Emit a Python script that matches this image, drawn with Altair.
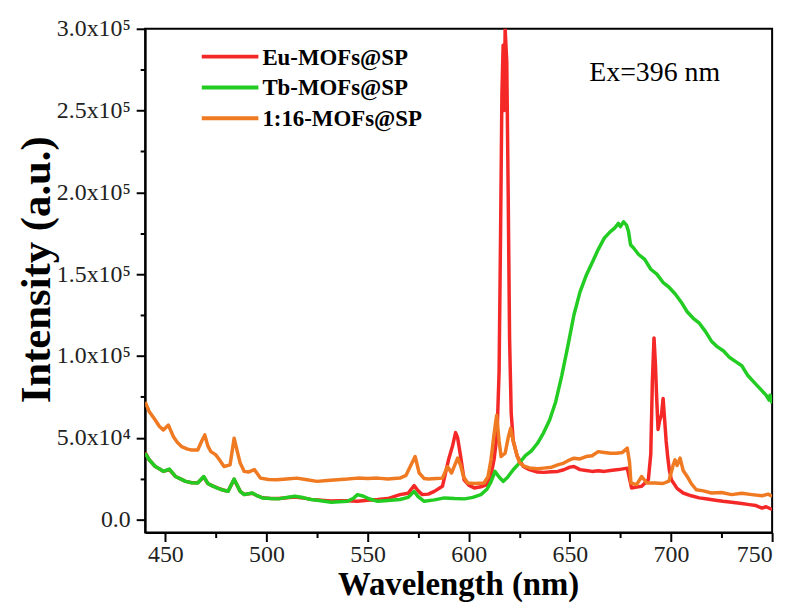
import altair as alt
import pandas as pd

# ---------------- data ----------------
eu_wl = [440, 442, 445, 447, 449, 452, 455, 458, 460, 463, 466, 469, 471, 473, 476, 478, 481, 484, 487, 489,
         493, 495, 498, 502, 506, 510, 514, 518, 522, 527, 532, 536, 540, 545, 550, 555, 560, 566, 570, 573,
         575, 577, 580, 583, 587, 590, 592, 593.5, 594.5, 596, 597.7, 600, 602.7, 606, 609, 611, 612.5, 614,
         615, 615.7, 616.4, 617, 617.5, 618, 618.8, 619.5, 620.2, 621, 622, 624, 627, 630, 634, 637, 641, 644,
         647, 650, 652, 655, 658, 661, 664, 667, 670, 674, 678.4, 679.5, 680.5, 683, 685.5, 688.8, 690, 690.8,
         691.6, 692.3, 692.9, 693.6, 694.3, 695.3, 696.1, 696.8, 697.6, 698.4, 699.2, 700.2, 703, 706, 710,
         714, 718, 722, 725.6, 730, 735, 738.7, 742, 745, 747, 750]
eu_val = [41000, 36500, 32400, 31000, 29400, 30500, 26300, 24500, 23300, 22500, 22500, 26000, 22000, 20700,
          19200, 18200, 17300, 24500, 17200, 15300, 16000, 14800, 13300, 12900, 12800, 13300, 13800, 13200,
          12300, 11800, 11300, 11400, 11500, 11100, 11800, 12200, 12800, 15200, 16000, 20700, 17500, 15200,
          15500, 17200, 20300, 36500, 45000, 53100, 50000, 38500, 24300, 21000, 19300, 20000, 21300, 27000,
          36500, 52000, 90000, 170000, 260000, 290000, 250000, 300000, 280000, 200000, 110000, 65000, 48000,
          38500, 32400, 30500, 29000, 28800, 29200, 29400, 30400, 32000, 32400, 30500, 30000, 29400, 29800,
          29400, 30000, 30500, 31400, 25000, 19300, 19800, 20300, 24300, 40000, 85000, 111000, 95000, 75000,
          55000, 60000, 64000, 74000, 62000, 48000, 38000, 30000, 24300, 19000, 16200, 14500, 13200, 12500,
          11800, 11100, 10500, 9800, 9100, 8500, 7000, 7800, 6100]

tb_wl = [440, 442, 445, 447, 449, 452, 455, 458, 460, 463, 466, 469, 471, 473, 476, 478, 481, 484, 487, 489,
         493, 495, 498, 502, 506, 510, 514, 518, 522, 527, 532, 536, 540, 543, 545, 548, 551, 555, 560, 566,
         570, 573, 575, 578, 583, 588, 593, 598, 602, 606, 609, 611, 613, 615, 617, 619, 622, 625, 628, 631,
         634, 637, 640, 643, 646, 649, 652, 655, 658, 661, 664, 667, 670, 672, 674, 675, 676.5, 678, 679, 680,
         681.5, 684, 687, 690, 693, 696, 699, 702, 705, 708, 711, 714, 717, 720, 723, 726, 729, 732, 735, 738,
         741, 744, 747, 748.5, 749, 750]
tb_val = [40500, 36500, 32400, 31000, 29400, 30800, 26300, 24500, 23300, 22500, 22300, 26300, 22000, 20700,
          19000, 18200, 17200, 24700, 17200, 15200, 16200, 14800, 13200, 12800, 12600, 13500, 14200, 13400,
          12200, 11500, 10500, 10800, 11100, 13000, 15200, 14200, 12500, 11100, 11600, 12200, 13500, 17200,
          14000, 11100, 12000, 13200, 12800, 12600, 13500, 15200, 18500, 23000, 29400, 26000, 23300, 25500,
          30400, 34500, 39000, 42000, 46600, 53000, 60800, 72000, 88000, 106000, 125000, 139000, 149000,
          157000, 165000, 172000, 176000, 178000, 181000, 179000, 182000, 180000, 176000, 168000, 166000,
          162000, 159000, 153000, 150000, 145000, 142000, 138000, 133000, 127000, 123000, 120000, 115000,
          109000, 105500, 103000, 99000, 96500, 94000, 88000, 84000, 80000, 76000, 73000, 76000, 71000]

mix_wl = [440, 442, 445, 447, 449, 451.5, 454, 456, 458, 461, 463, 466, 468, 469.5, 471, 472.5, 475, 477, 479,
          482, 484, 485.5, 487, 489, 491, 494, 497, 501, 505, 510, 515, 520, 525, 530, 535, 540, 545, 550, 555,
          560, 566, 569, 571.5, 573.5, 575.5, 578, 580, 584, 587, 589.5, 591.5, 594.5, 596, 597.5, 599.5, 603,
          607.5, 609.5, 611, 612.5, 613.8, 615, 616, 618, 619.5, 620.7, 622, 623.6, 625, 627, 630, 634, 637,
          641, 644, 647, 650, 652, 655, 658, 661, 664, 667, 670, 673, 676, 678.4, 679.5, 680.2, 683, 685.5, 688,
          692, 696, 699, 701, 702, 703, 704.5, 706, 708, 710, 712.5, 716, 720, 725, 730, 735, 740, 745, 748, 750]
mix_val = [71900, 66000, 60800, 57000, 54700, 57700, 50600, 47000, 44600, 43000, 42500, 42500, 48000, 51700,
           45000, 41500, 39500, 36000, 32400, 33400, 49700, 42000, 34500, 29400, 29000, 30500, 25300, 24500,
           24300, 24800, 25300, 24300, 23300, 23800, 24300, 24700, 25300, 25000, 25300, 24800, 25300, 27000,
           33400, 38500, 28400, 25000, 24700, 25000, 25300, 32400, 28400, 37500, 33000, 26000, 22300, 22000,
           22300, 26000, 36500, 52000, 63800, 48000, 38500, 40500, 50000, 55700, 48000, 40500, 35000, 32800,
           31500, 31000, 31400, 32000, 33400, 34500, 36500, 37500, 37000, 38500, 39000, 41500, 41000, 40500,
           40500, 41000, 43600, 35000, 22300, 21300, 26300, 22300, 22300, 22000, 23500, 33000, 36500, 33000,
           37500, 30000, 26300, 22000, 18200, 17500, 16200, 16500, 15200, 16000, 15200, 14500, 15500, 14200]

series_names = ["Eu-MOFs@SP", "Tb-MOFs@SP", "1:16-MOFs@SP"]
series_colors = ["#f52828", "#22cc22", "#ef7a22"]

x_major = [450, 500, 550, 600, 650, 700, 750]
x_minor = [475, 525, 575, 625, 675, 725]
y_major = [0, 50000, 100000, 150000, 200000, 250000, 300000]
y_minor = [25000, 75000, 125000, 175000, 225000, 275000]

# ---------------- chart ----------------
FONT = "Liberation Serif"
x_dom = [440, 750]
y_dom = [-8000, 300000]

def series_df(wl, val, name):
    return pd.DataFrame({"wl": wl, "val": val, "series": name})

dfs = [series_df(eu_wl, eu_val, series_names[0]),
       series_df(tb_wl, tb_val, series_names[1]),
       series_df(mix_wl, mix_val, series_names[2])]

ylab = ("datum.value == 0 ? '0.0' : (datum.value < 100000 ? format(datum.value/10000, '.1f') + 'x10\u2074' "
        ": format(datum.value/100000, '.1f') + 'x10\u2075')")

x_main = alt.X("wl:Q", scale=alt.Scale(domain=x_dom, nice=False, zero=False),
               axis=alt.Axis(values=x_major, title="Wavelength (nm)", grid=False, format="d",
                             tickSize=9, tickWidth=2, domainWidth=2, domainColor="black", tickColor="black",
                             labelFont=FONT, labelFontSize=24, labelColor="#222", labelPadding=1,
                             titleFont=FONT, titleFontSize=33, titleFontWeight="bold", titleColor="black",
                             titleX=315, titleY=62, titleBaseline="alphabetic"))
y_main = alt.Y("val:Q", scale=alt.Scale(domain=y_dom, nice=False, zero=False),
               axis=alt.Axis(values=y_major, title="Intensity (a.u.)", grid=False, labelExpr=ylab,
                             tickSize=9, tickWidth=2, domainWidth=2, domainColor="black", tickColor="black",
                             labelFont=FONT, labelFontSize=24, labelColor="#222", labelPadding=6,
                             titleFont=FONT, titleFontSize=43, titleFontWeight="bold", titleColor="black",
                             titleX=-109, titleY=242, titleBaseline="middle", titleAngle=270))

layers = []
for i, df in enumerate(dfs):
    enc_x = x_main if i == 0 else alt.X("wl:Q", scale=alt.Scale(domain=x_dom, nice=False, zero=False), axis=None)
    enc_y = y_main if i == 0 else alt.Y("val:Q", scale=alt.Scale(domain=y_dom, nice=False, zero=False), axis=None)
    layers.append(alt.Chart(df).mark_line(strokeWidth=3.5, clip=True, strokeJoin="round").encode(
        x=enc_x, y=enc_y, color=alt.value(series_colors[i])))

# minor ticks
minor_x = alt.Chart(pd.DataFrame({"wl": [x_dom[0]], "val": [0]})).mark_point(opacity=0).encode(
    x=alt.X("wl:Q", scale=alt.Scale(domain=x_dom, nice=False, zero=False),
            axis=alt.Axis(values=x_minor, labels=False, title=None, grid=False, domain=False,
                          tickSize=5, tickWidth=2, tickColor="black", orient="bottom")),
    y=alt.Y("val:Q", scale=alt.Scale(domain=y_dom, nice=False, zero=False),
            axis=alt.Axis(values=y_minor, labels=False, title=None, grid=False, domain=False,
                          tickSize=5, tickWidth=2, tickColor="black", orient="left")))

# legend (manual)
leg_layers = []
for i, (name, col) in enumerate(zip(series_names, series_colors)):
    ld = pd.DataFrame({"s": [name]})
    ypos = 28 + 31 * i
    leg_layers.append(alt.Chart(ld).mark_rule(strokeWidth=4, color=col).encode(
        x=alt.value(57), x2=alt.value(114), y=alt.value(ypos)))
    leg_layers.append(alt.Chart(ld).mark_text(align="left", baseline="middle", font=FONT, fontSize=23,
                                              fontWeight="bold", color="black").encode(
        x=alt.value(118), y=alt.value(ypos + 1), text="s:N"))

note = alt.Chart(pd.DataFrame({"t": ["Ex=396 nm"]})).mark_text(
    align="left", baseline="alphabetic", font=FONT, fontSize=28, color="black").encode(
    x=alt.value(447), y=alt.value(53), text="t:N")

chart = alt.layer(*layers, minor_x, *leg_layers, note).resolve_axis(
    x="independent", y="independent").properties(
    width=631, height=507, autosize="none",
    padding={"left": 138, "top": 19, "right": 20, "bottom": 77},
    background="white"
).configure_view(stroke="black", strokeWidth=2)

chart.save("out.html", embed_options={"renderer": "svg", "actions": False})
